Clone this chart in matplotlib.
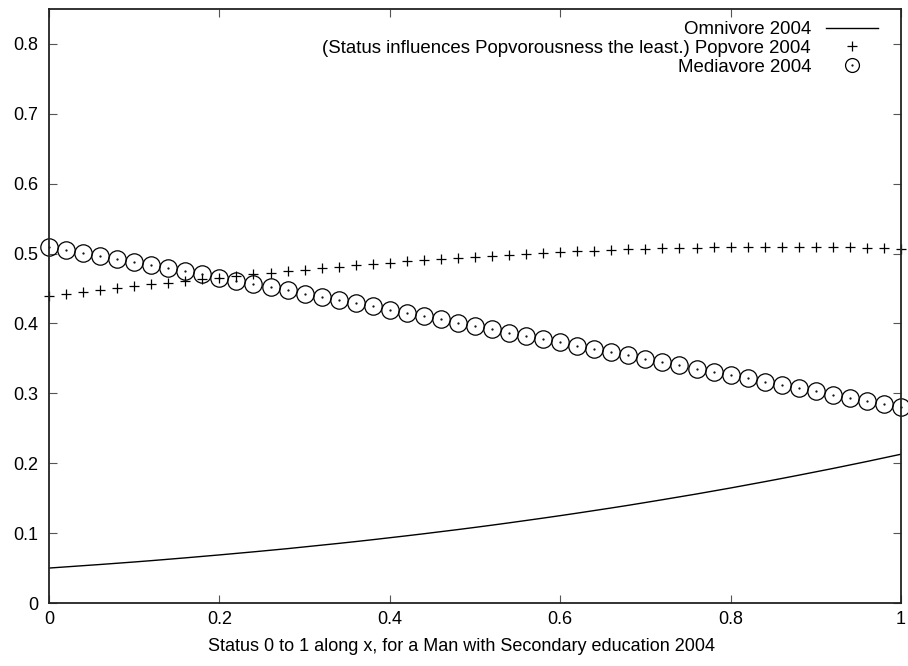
import matplotlib
matplotlib.use("Agg")
import matplotlib.pyplot as plt

plt.rcParams['font.family'] = ['Liberation Sans', 'DejaVu Sans']

# Status values along x (0 to 1 in steps of 0.02)
status = [i / 50 for i in range(51)]

omnivore = [0.0500, 0.0517, 0.0534, 0.0551, 0.0569, 0.0587, 0.0606, 0.0626, 0.0646, 0.0667,
            0.0688, 0.0710, 0.0732, 0.0755, 0.0778, 0.0803, 0.0828, 0.0853, 0.0879, 0.0906,
            0.0934, 0.0962, 0.0991, 0.1021, 0.1051, 0.1082, 0.1114, 0.1147, 0.1181, 0.1215,
            0.1250, 0.1286, 0.1323, 0.1360, 0.1398, 0.1438, 0.1478, 0.1519, 0.1560, 0.1603,
            0.1646, 0.1691, 0.1736, 0.1782, 0.1829, 0.1877, 0.1925, 0.1975, 0.2025, 0.2077,
            0.2129]

popvore = [0.4399, 0.4426, 0.4454, 0.4480, 0.4507, 0.4533, 0.4558, 0.4584, 0.4609, 0.4633,
           0.4657, 0.4681, 0.4704, 0.4726, 0.4749, 0.4770, 0.4791, 0.4812, 0.4832, 0.4851,
           0.4870, 0.4888, 0.4905, 0.4922, 0.4938, 0.4954, 0.4969, 0.4983, 0.4996, 0.5009,
           0.5021, 0.5032, 0.5042, 0.5051, 0.5060, 0.5067, 0.5074, 0.5080, 0.5085, 0.5089,
           0.5092, 0.5095, 0.5096, 0.5096, 0.5096, 0.5094, 0.5092, 0.5088, 0.5084, 0.5078,
           0.5071]

mediavore = [0.5101, 0.5057, 0.5013, 0.4969, 0.4924, 0.4880, 0.4835, 0.4791, 0.4746, 0.4701,
             0.4655, 0.4610, 0.4564, 0.4519, 0.4473, 0.4427, 0.4381, 0.4335, 0.4289, 0.4243,
             0.4197, 0.4150, 0.4104, 0.4057, 0.4010, 0.3964, 0.3917, 0.3870, 0.3823, 0.3777,
             0.3730, 0.3683, 0.3636, 0.3589, 0.3542, 0.3495, 0.3448, 0.3402, 0.3355, 0.3308,
             0.3261, 0.3215, 0.3168, 0.3122, 0.3075, 0.3029, 0.2983, 0.2937, 0.2891, 0.2846,
             0.2800]

xticks = [0, 0.2, 0.4, 0.6, 0.8, 1]
xticklabels = ["0", "0.2", "0.4", "0.6", "0.8", "1"]
yticks = [0, 0.1, 0.2, 0.3, 0.4, 0.5, 0.6, 0.7, 0.8]
yticklabels = ["0", "0.1", "0.2", "0.3", "0.4", "0.5", "0.6", "0.7", "0.8"]

W, H = 908, 666
FS = 13
fig = plt.figure(figsize=(W / 100, H / 100), dpi=100)
left, right, top, bottom = 49, 901, 9, 603
ax = fig.add_axes([left / W, 1 - bottom / H, (right - left) / W, (bottom - top) / H])

omni_line, = ax.plot(status, omnivore, color='black', lw=1.0)
pop_pts, = ax.plot(status, popvore, ls='none', marker='+', ms=7, mew=0.9, color='black',
                   clip_on=False)
med_circ, = ax.plot(status, mediavore, ls='none', marker='o', ms=12.5, mfc='none', mew=0.9,
                    color='black', clip_on=False)
med_dot, = ax.plot(status, mediavore, ls='none', marker='.', ms=1.2, color='black',
                   clip_on=False)

ax.set_xlim(0, 1)
ax.set_ylim(0, 0.85)
ax.set_xticks(xticks)
ax.set_xticklabels(xticklabels)
ax.set_yticks(yticks)
ax.set_yticklabels(yticklabels)
ax.tick_params(direction='in', top=True, right=True, length=6, width=0.8,
               color='#555555', labelsize=FS)
ax.tick_params(axis='x', pad=6)
ax.tick_params(axis='y', pad=8)
for s in ax.spines.values():
    s.set_linewidth(1.3)
    s.set_color('#222222')

ax.set_xlabel('Status 0 to 1 along x, for a Man with Secondary education 2004',
              fontsize=FS, labelpad=7)
ax.xaxis.label.set_x((462 - left) / (right - left))

# legend samples: smaller circle with centre dot
leg_circ, = ax.plot([], [], ls='none', marker='o', ms=10, mfc='none', mew=0.9, color='black')
leg_dot, = ax.plot([], [], ls='none', marker='.', ms=1.2, color='black')

ax.legend([omni_line, pop_pts, (leg_circ, leg_dot)],
          ['Omnivore 2004',
           '(Status influences Popvorousness the least.) Popvore 2004',
           'Mediavore 2004'],
          loc='upper right', bbox_to_anchor=(878 / W, 1 - 21 / H),
          bbox_transform=fig.transFigure, frameon=False, markerfirst=False,
          fontsize=13.4, handlelength=2.8, handletextpad=0.8, labelspacing=0.1,
          borderpad=0, borderaxespad=0)

fig.savefig('out.png', dpi=100)
